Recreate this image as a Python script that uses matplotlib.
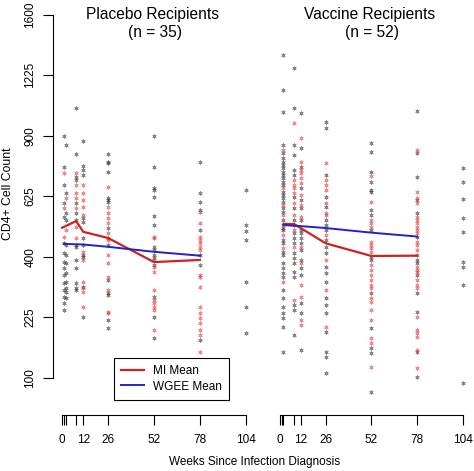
import matplotlib
matplotlib.use('Agg')
import matplotlib.pyplot as plt
import numpy as np

plt.rcParams['font.family'] = ['Liberation Sans', 'DejaVu Sans']

### CD4+ counts per visit week: observed (black) and imputed (red)
plac_weeks = [1, 2, 8, 12, 26, 52, 78, 104]
plac_obs = [
    [899, 752, 673, 598, 543, 447, 413, 383, 364, 342, 318, 298, 279, 262, 244],
    [855, 639, 558, 531, 440, 406, 380, 349, 321, 304, 292, 276],
    [1043, 812, 708, 694, 598, 558, 531, 440, 433, 390, 364, 318, 304, 298],
    [874, 757, 739, 716, 539, 524, 465, 440, 406, 400, 307, 226],
    [812, 775, 770, 730, 618, 610, 602, 501, 440, 327, 290, 284, 219, 200],
    [899, 752, 660, 651, 622, 547, 512, 433, 423, 406, 396, 374, 279, 226, 177],
    [775, 639, 602, 570, 494, 406, 374, 173],
    [651, 512, 490, 458, 321, 252, 188],
]
plac_imp = [
    [725, 578, 468],
    [618, 494],
    [725, 673, 639, 618, 578, 505, 465],
    [673, 639, 610, 582, 550, 416, 390, 321, 304, 292, 252],
    [664, 582, 558, 539, 520, 483, 465, 458, 406, 380, 336, 298, 239, 236],
    [468, 465, 390, 367, 352, 298, 270, 262, 252, 244, 195],
    [562, 520, 468, 458, 447, 433, 423, 342, 336, 307, 252, 236, 224, 211,
     195, 184, 148],
    [],
]

vacc_weeks = [2, 8, 12, 26, 52, 78, 104]
vacc_obs = [
    [1345, 1141, 1022, 855, 817, 793, 775, 761, 747, 730, 716, 703, 686, 673,
     643, 631, 618, 602, 578, 562, 531, 501, 494, 458, 447, 416, 406, 380,
     364, 349, 336, 298, 276, 252, 236, 224, 202, 148],
    [1267, 1043, 855, 807, 739, 716, 622, 578, 531, 512, 483, 465, 447, 413,
     396, 380, 352, 336, 257, 244, 184],
    [1016, 841, 752, 660, 610, 578, 531, 494, 483, 465, 447, 423, 390, 364,
     342, 262, 236, 152],
    [970, 939, 716, 622, 582, 531, 512, 494, 458, 433, 413, 367, 349, 321,
     276, 257, 236, 190, 148, 138, 108],
    [865, 821, 730, 686, 651, 643, 570, 550, 494, 400, 390, 290, 200, 156,
     146, 78],
    [1027, 817, 708, 610, 558, 468, 390, 380, 342, 290, 239, 148, 102],
    [747, 686, 614, 539, 487, 383, 367, 313, 92],
]
vacc_imp = [
    [831, 660, 590, 550, 512, 476, 430, 321],
    [965, 694, 673, 660, 639, 598, 550, 494, 433, 270],
    [889, 775, 739, 725, 703, 681, 631, 590, 543, 433, 380, 313, 279, 219,
     207],
    [770, 694, 673, 651, 598, 558, 550, 476, 390, 298, 202],
    [712, 602, 531, 520, 505, 451, 440, 430, 416, 374, 358, 342, 327, 313,
     304, 276, 265, 244, 219, 177, 166, 119],
    [831, 643, 618, 598, 543, 531, 520, 505, 494, 483, 451, 440, 423, 406,
     367, 358, 352, 327, 313, 304, 226, 195, 188, 179, 152, 117],
    [],
]

### mean curves
plac_mi_wk = [0, 8, 12, 26, 52, 78]
plac_mi = [502, 527, 487, 465, 383, 390]
plac_gee_wk = [1, 12, 26, 52, 78]
plac_gee = [444, 442, 434, 417, 404]
vacc_mi_wk = [2, 8, 26, 52, 78]
vacc_mi = [516, 516, 446, 403, 404]
vacc_gee_wk = [2, 12, 26, 52, 78]
vacc_gee = [512, 508, 501, 484, 470]

yticks = [100, 225, 400, 625, 900, 1225, 1600]
xticks = [0, 1, 2, 8, 12, 26, 52, 78, 104]
xticklabels = ['0', '', '', '', '12', '26', '52', '78', '104']

RED = '#cc2222'
BLUE = '#2222cc'
W, H = 474, 471


def draw_panel(ax, weeks, obs, imp, mi_wk, mi, gee_wk, gee):
    'scatter of individual counts plus two mean curves'
    for wk, o, r in zip(weeks, obs, imp):
        ax.scatter([wk] * len(o), o, marker=(6, 2, 0), s=7, lw=0.5,
                   color='#333333', alpha=0.6, zorder=2)
        if r:
            ax.scatter([wk] * len(r), r, marker=(6, 2, 0), s=7, lw=0.5,
                       color='#e83838', alpha=0.6, zorder=2)
    l1, = ax.plot(mi_wk, mi, color=RED, lw=1.6, zorder=4, label='MI Mean')
    l2, = ax.plot(gee_wk, gee, color=BLUE, lw=1.4, zorder=4, label='WGEE Mean')
    ax.set_yscale('function', functions=(np.sqrt, np.square))
    ax.set_ylim(48.2, 1644.6)
    ax.set_xlim(-5.1, 108)
    ax.set_xticks(xticks)
    ax.set_xticklabels(xticklabels)
    ax.tick_params(axis='x', length=7, pad=7, labelsize=8.5, width=0.8)
    ax.spines['top'].set_visible(False)
    ax.spines['right'].set_visible(False)
    ax.spines['bottom'].set_bounds(0, 104)
    ax.spines['bottom'].set_linewidth(0.8)
    ax.patch.set_alpha(0)
    return l1, l2


fig = plt.figure(figsize=(W / 100, H / 100), dpi=100)
axL = fig.add_axes([53 / W, (H - 415) / H, 200 / W, (415 - 8) / H])
axR = fig.add_axes([271 / W, (H - 415) / H, 199 / W, (415 - 8) / H])

l1, l2 = draw_panel(axL, plac_weeks, plac_obs, plac_imp,
                    plac_mi_wk, plac_mi, plac_gee_wk, plac_gee)
draw_panel(axR, vacc_weeks, vacc_obs, vacc_imp,
           vacc_mi_wk, vacc_mi, vacc_gee_wk, vacc_gee)

'y axis only on the left panel'
axL.set_yticks(yticks)
axL.set_yticklabels([str(v) for v in yticks], rotation=90, va='center')
axL.yaxis.set_minor_locator(matplotlib.ticker.NullLocator())
axL.tick_params(axis='y', length=7, pad=5, labelsize=8.5, width=0.8)
axL.spines['left'].set_bounds(100, 1600)
axL.spines['left'].set_linewidth(0.8)
axR.spines['left'].set_visible(False)
axR.set_yticks([])
axR.yaxis.set_minor_locator(matplotlib.ticker.NullLocator())

'titles and labels'
fig.text(152 / W, 1 - 14 / H, 'Placebo Recipients', ha='center', va='center', fontsize=11.2)
fig.text(155 / W, 1 - 33 / H, '(n = 35)', ha='center', va='center', fontsize=11.2)
fig.text(370 / W, 1 - 14 / H, 'Vaccine Recipients', ha='center', va='center', fontsize=11.2)
fig.text(372 / W, 1 - 33 / H, '(n = 52)', ha='center', va='center', fontsize=11.2)
fig.text(8 / W, 1 - 194 / H, 'CD4+ Cell Count', rotation=90, ha='center', va='center', fontsize=8.8)
fig.text(255 / W, 1 - 462 / H, 'Weeks Since Infection Diagnosis', ha='center', va='center', fontsize=8.5)

leg = axL.legend([l1, l2], ['MI Mean', 'WGEE Mean'], loc='upper left',
                 bbox_to_anchor=(114 / W, 1 - 358 / H), bbox_transform=fig.transFigure,
                 borderaxespad=0, fancybox=False, framealpha=1, edgecolor='black',
                 fontsize=8.5, handlelength=1.9, handletextpad=0.8,
                 borderpad=0.6, labelspacing=0.3)
leg.get_frame().set_linewidth(0.8)

plt.savefig('out.png', dpi=100)
